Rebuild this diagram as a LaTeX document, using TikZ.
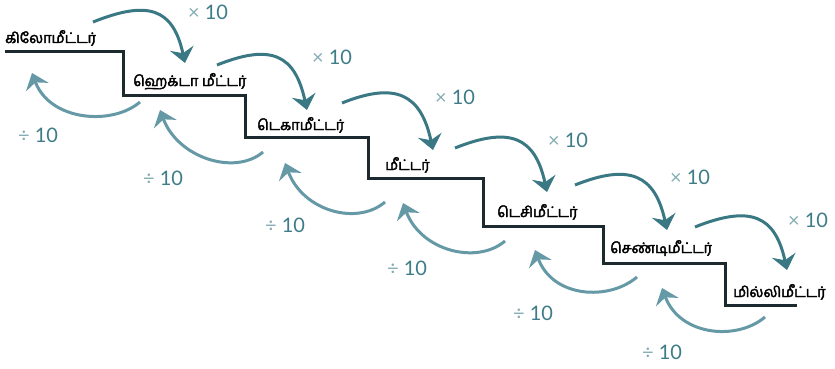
\documentclass[tikz,border=0pt]{standalone}
\usepackage{fontspec}
\setmainfont{Lato}
\newfontfamily\tamilfont[Script=Tamil, AutoFakeBold=2.6]{Hind Madurai}
\usetikzlibrary{calc,arrows.meta}

\definecolor{stairline}{HTML}{1C2A30}
\definecolor{mulcol}{HTML}{3A7884}
\definecolor{divcol}{HTML}{6499A5}
\definecolor{numcol}{HTML}{3E7C87}
\definecolor{symcol}{HTML}{82ABB3}

\tikzset{
  unitlabel/.style={font=\tamilfont\bfseries\fontsize{14.5}{17}\selectfont, inner sep=0pt, anchor=base west},
  factor/.style={font=\fontsize{20}{24}\selectfont, text=numcol, inner sep=0pt},
  mularrow/.style={draw=mulcol, line width=3pt, -{Stealth[length=15pt,width=24pt,inset=5pt]}},
  divarrow/.style={draw=divcol, line width=3pt, -{Stealth[length=15pt,width=24pt,inset=5pt]}}
}

\begin{document}
\begin{tikzpicture}[x=1pt, y=-1pt]
\useasboundingbox (0,0) rectangle (835,369);

% Staircase
\draw[stairline, line width=3pt]
  (5,52) -| (123,95) -| (245,137) -| (368,178) -| (483,226)
  -| (603,263) -| (725,305) -- (797,305);

% Unit names on the treads
\node[unitlabel] (km)  at (5,43)   {கிலோமீட்டர்};
\node[unitlabel] (hm)  at (133,86) {ஹெக்டா மீட்டர்};
\node[unitlabel] (dam) at (257,130) {டெகாமீட்டர்};
\node[unitlabel] (m)   at (385,170) {மீட்டர்};
\node[unitlabel] (dm)  at (497,217) {டெசிமீட்டர்};
\node[unitlabel] (cm)  at (610,253) {செண்டிமீட்டர்};
\node[unitlabel] (mm)  at (733,297) {மில்லிமீட்டர்};

% Going down a step: multiply by 10
\foreach \i/\sx/\sy/\tx/\ty/\lx/\ly in {
    1/93/22/185/63/208/12,
    2/217/65/307/110/332/57,
    3/342/103/433/150/455/97,
    4/455/148/547/192/568/140,
    5/575/185/667/230/690/177,
    6/695/227/787/270/808/220}{
  \coordinate (mulS\i) at (\sx,\sy);
  \coordinate (mulT\i) at (\tx,\ty);
  \draw[mularrow] (mulS\i) .. controls ($(mulS\i)+(55,-22)$) and ($(mulT\i)+(-12,-55)$) .. (mulT\i);
  \node[factor] (mulL\i) at (\lx,\ly) {{\color{symcol}×}~10};
}

% Going up a step: divide by 10
\foreach \i/\sx/\sy/\tx/\ty/\lx/\ly in {
    1/140/102/32/73/38/135,
    2/263/152/160/110/163/178,
    3/385/202/285/163/285/225,
    4/505/241/403/203/407/268,
    5/637/277/535/250/533/313,
    6/765/317/662/288/662/352}{
  \coordinate (divS\i) at (\sx,\sy);
  \coordinate (divT\i) at (\tx,\ty);
  \draw[divarrow] (divS\i) .. controls ($(divS\i)+(-28,24)$) and ($(divT\i)+(18,48)$) .. (divT\i);
  \node[factor] (divL\i) at (\lx,\ly) {{\color{symcol}÷}~10};
}
\end{tikzpicture}
\end{document}
